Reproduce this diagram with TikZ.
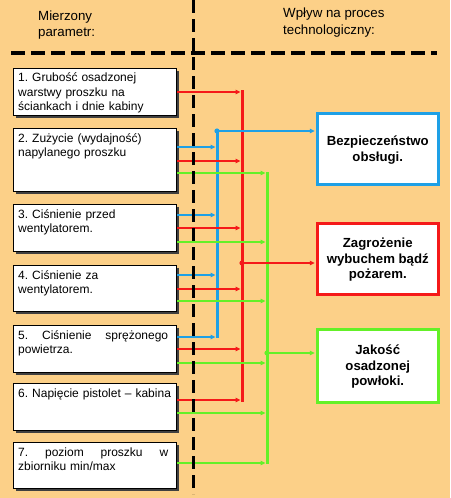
\documentclass[tikz,border=0pt]{standalone}
\usepackage{fontspec}
\setmainfont{Liberation Sans}
\usetikzlibrary{arrows.meta,shadows}
\definecolor{bg}{RGB}{252,208,136}
\definecolor{cblue}{RGB}{30,160,230}
\definecolor{cred}{RGB}{245,25,25}
\definecolor{cgreen}{RGB}{100,240,40}
\newcommand\feed[4]{\path (#2.north east) ++(0,#3) coordinate (ft); \draw[arr,#1] (ft) -- (ft -| #4);}
\frenchspacing
\begin{document}
\begin{tikzpicture}[x=1pt,y=-1pt,
  shad/.style={drop shadow={shadow xshift=2pt,shadow yshift=-2pt,fill=black!75,opacity=1}},
  lbox/.style={draw=black,line width=1.2pt,fill=white,minimum width=163pt,anchor=north west,inner sep=0pt,shad},
  ltext/.style={anchor=north west,inner sep=0pt,text width=160pt,align=left,font=\fontsize{12}{14.5}\selectfont\frenchspacing},
  rbox/.style={line width=2.5pt,fill=white,minimum width=121pt,anchor=north west,inner sep=0pt,shad},
  rtext/.style={align=center,inner sep=0pt,font=\fontsize{13.2}{15.5}\selectfont\bfseries},
  htext/.style={anchor=north west,inner sep=0pt,align=left,font=\fontsize{13.3}{16.5}\selectfont},
  arr/.style={line width=1.4pt,-{Triangle[length=5pt,width=4.5pt]},shorten >=1.5pt},
  bus/.style={line width=3pt},
  dashline/.style={line width=3pt,black}]
\useasboundingbox[fill=bg] (0,0) rectangle (450,498);
% headers
\node[htext] (h1) at (38,9) {\rule{0pt}{11pt}Mierzony\\parametr:};
\node[htext] (h2) at (283,6.5) {\rule{0pt}{11pt}Wpływ na proces\\technologiczny:};
% left boxes
\node[lbox,minimum height=47pt] (b1) at (13,68) {};
\node[lbox,minimum height=63pt] (b2) at (13,128) {};
\node[lbox,minimum height=47pt] (b3) at (13,204) {};
\node[lbox,minimum height=46pt] (b4) at (13,265) {};
\node[lbox,minimum height=47pt] (b5) at (13,325) {};
\node[lbox,minimum height=47pt] (b6) at (13,383) {};
\node[lbox,minimum height=46pt] (b7) at (13,442) {};
\node[ltext] (t1) at ([xshift=5pt,yshift=-2.5pt]b1.north west) {\rule{0pt}{11pt}1. Grubość osadzonej\\warstwy proszku na\\ściankach i dnie kabiny};
\node[ltext] (t2) at ([xshift=5pt,yshift=-3pt]b2.north west) {\rule{0pt}{11pt}2. Zużycie (wydajność)\\napylanego proszku};
\node[ltext] (t3) at ([xshift=5pt,yshift=-3pt]b3.north west) {\rule{0pt}{11pt}3. Ciśnienie przed\\wentylatorem.};
\node[ltext] (t4) at ([xshift=5pt,yshift=-3pt]b4.north west) {\rule{0pt}{11pt}4. Ciśnienie za\\wentylatorem.};
\node[ltext] (t5) at ([xshift=5pt,yshift=-3pt]b5.north west) {\rule{0pt}{11pt}\hbox to 150pt{5.\hfill Ciśnienie\hfill sprężonego}\\powietrza.};
\node[ltext] (t6) at ([xshift=5pt,yshift=-3pt]b6.north west) {\rule{0pt}{11pt}6. Napięcie pistolet – kabina};
\node[ltext] (t7) at ([xshift=5pt,yshift=-3pt]b7.north west) {\rule{0pt}{11pt}\hbox to 150pt{7.\hfill poziom\hfill proszku\hfill w}\\zbiorniku min/max};
% right boxes
\node[rbox,draw=cblue,minimum height=71pt] (B) at (316,112) {};
\node[rbox,draw=cred,minimum height=71pt] (Z) at (316,222) {};
\node[rbox,draw=cgreen,minimum height=73pt] (J) at (316,328) {};
\node[rtext] (tB) at ([yshift=-1.5pt]B.center) {Bezpieczeństwo\\obsługi.};
\node[rtext] (tZ) at ([yshift=-1pt]Z.center) {Zagrożenie\\wybuchem bądź\\pożarem.};
\node[rtext] (tJ) at ([yshift=-1pt]J.center) {Jakość\\osadzonej\\powłoki.};
% buses
\coordinate (BT) at (217,131); \coordinate (BB) at (217,338);
\coordinate (RT) at (242,90);  \coordinate (RB) at (242,402);
\coordinate (GT) at (267,172); \coordinate (GB) at (267,464);
\coordinate (RD) at (242,263); \coordinate (GD) at (267,353);
\draw[bus,cblue] (BT) -- (BB);
\draw[bus,cred] (RT) -- (RB);
\draw[bus,cgreen] (GT) -- (GB);
% feeds
\feed{cred}{b1}{24}{RT}
\feed{cblue}{b2}{19}{BT}
\feed{cred}{b2}{33}{RT}
\feed{cgreen}{b2}{45}{GT}
\feed{cblue}{b3}{11}{BT}
\feed{cred}{b3}{24}{RT}
\feed{cgreen}{b3}{38}{GT}
\feed{cblue}{b4}{10}{BT}
\feed{cred}{b4}{24}{RT}
\feed{cgreen}{b4}{36}{GT}
\feed{cblue}{b5}{12}{BT}
\feed{cred}{b5}{24}{RT}
\feed{cgreen}{b5}{38}{GT}
\feed{cred}{b6}{17}{RT}
\feed{cgreen}{b6}{30}{GT}
\feed{cgreen}{b7}{21}{GT}
% outputs
\draw[arr,cblue,shorten >=1.2pt] (BT) -- (BT -| B.west);
\draw[arr,cred,shorten >=1.2pt] (RD) -- (RD -| Z.west);
\draw[arr,cgreen,shorten >=1.2pt] (GD) -- (GD -| J.west);
\fill[cblue] (BT) circle (2.6pt);
\fill[cred] (RD) circle (2.6pt);
\fill[cgreen] (GD) circle (2.6pt);
% dashed separators
\coordinate (VT) at (193,0); \coordinate (VB) at (193,494);
\coordinate (HL) at (11,53); \coordinate (HR) at (437,53);
\draw[dashline,dash pattern=on 13pt off 6pt] (VT) -- (VB);
\draw[dashline,dash pattern=on 14pt off 6pt,line width=3.5pt] (HL) -- (HR);
\end{tikzpicture}
\end{document}
